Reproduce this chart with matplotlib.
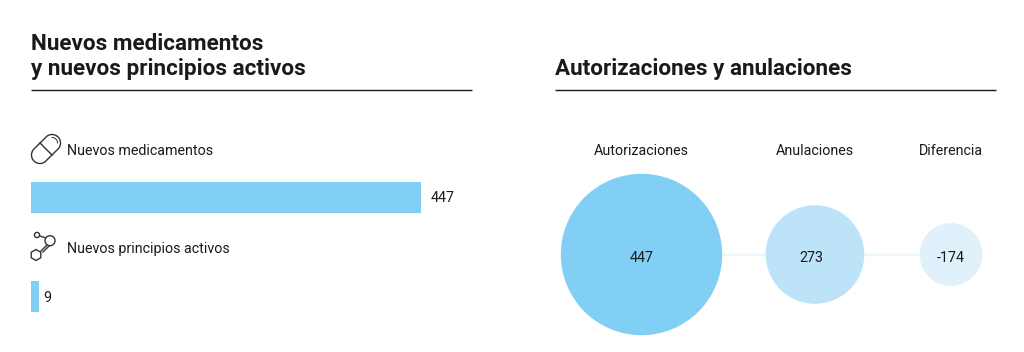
import numpy as np
import matplotlib
matplotlib.use("Agg")
import matplotlib.pyplot as plt
from matplotlib.patches import Circle, Polygon, Arc
from matplotlib.transforms import Affine2D

# datos
categorias = ["Nuevos medicamentos", "Nuevos principios activos"]
valores_barras = [447, 9]
etiquetas_burbujas = ["Autorizaciones", "Anulaciones", "Diferencia"]
valores_burbujas = [447, 273, -174]
titulo_izq = ["Nuevos medicamentos", "y nuevos principios activos"]
titulo_der = "Autorizaciones y anulaciones"

azul = "#82cff6"
colores_burbujas = ["#82cff6", "#bde3f9", "#e0f1fc"]
negro = "#1a1a1a"
gris = "#333333"
plt.rcParams["font.family"] = ["Roboto", "DejaVu Sans"]

fig = plt.figure(figsize=(10.24, 3.52), dpi=100, facecolor="white")

# capa en pixeles, para titulos, iconos y burbujas
ax = fig.add_axes([0, 0, 1, 1])
ax.set_xlim(0, 1024)
ax.set_ylim(352, 0)
ax.axis("off")

# titulos
ax.text(31, 44, titulo_izq[0], fontsize=16.2, fontweight="bold", color=negro, ha="left", va="center")
ax.text(31, 69.5, titulo_izq[1], fontsize=16.2, fontweight="bold", color=negro, ha="left", va="center")
ax.text(555, 69.5, titulo_der, fontsize=16.2, fontweight="bold", color=negro, ha="left", va="center")
ax.plot([31, 472], [90, 90], color=negro, lw=1.0, solid_capstyle="butt")
ax.plot([555, 996], [90, 90], color=negro, lw=1.0, solid_capstyle="butt")

# barras
W, H = 1024, 352
ax_b = fig.add_axes([31 / W, 1 - 312 / H, 390 / W, 132 / H])
ax_b.patch.set_alpha(0)
ax_b.set_xlim(0, 447)
ax_b.set_ylim(132, 0)
ax_b.axis("off")
y_barras = [17, 116]
ax_b.barh(y_barras, valores_barras, height=31, color=azul)
for y, v in zip(y_barras, valores_barras):
    ax_b.annotate(str(v), (v, y), xytext=(10 if v > 100 else 4, -1.5), textcoords="offset pixels",
                  fontsize=10.3, color=negro, va="center", ha="left")

ax.text(67, 151, categorias[0], fontsize=10.3, color=negro, va="center")
ax.text(67, 249.5, categorias[1], fontsize=10.3, color=negro, va="center")

# icono pastilla
rot = Affine2D().rotate_deg_around(46, 149, -45) + ax.transData
ang = np.radians(np.arange(0, 361, 10))
px = np.where(np.cos(ang) > 0, 54.5, 37.5) + 8.5 * np.cos(ang)
py = 149 + 8.5 * np.sin(ang)
ax.add_patch(Polygon(np.c_[px, py], closed=True, fc="white", ec=gris, lw=1.0, transform=rot))
ax.plot([46, 46], [140.5, 157.5], color=gris, lw=1.0, transform=rot)
ax.add_patch(Arc((54.5, 149), 11, 11, theta1=-50, theta2=50, ec=gris, lw=0.7, transform=rot))

# icono molecula
def hexagono(cx, cy, r):
    a = np.radians(np.arange(30, 390, 60))
    return Polygon(np.c_[cx + r * np.cos(a), cy + r * np.sin(a)], closed=True,
                   fc="white", ec=gris, lw=1.0, zorder=3)

ax.plot([37, 46], [235, 238], color=gris, lw=1.0)
ax.plot([47, 41], [245, 251], color=gris, lw=1.0)
ax.plot([49, 43], [246, 252], color=gris, lw=1.0)
ax.add_patch(Circle((37, 235), 2.6, fc="white", ec=gris, lw=1.0, zorder=3))
ax.add_patch(Circle((50, 240.7), 5, fc="white", ec=gris, lw=1.0, zorder=3))
ax.add_patch(hexagono(36, 255, 5.5))

# burbujas
x_burbujas = [641.5, 815, 951]
dx_valor = [0, -4, 0]
y_burbuja = 254.5
escala = 80.7 / 447
ax.plot([x_burbujas[0], x_burbujas[-1]], [y_burbuja, y_burbuja], color="#ecf7fd", lw=1.6, zorder=1)
for x, d, v, c, e in zip(x_burbujas, dx_valor, valores_burbujas, colores_burbujas, etiquetas_burbujas):
    ax.add_patch(Circle((x, y_burbuja), abs(v) * escala, fc=c, ec="none", zorder=2))
    ax.text(x + d, y_burbuja + 3, str(v), fontsize=10.3, color=negro, ha="center", va="center", zorder=3)
    ax.text(x, 151, e, fontsize=10.3, color=negro, ha="center", va="center")

fig.savefig("out.png", dpi=100, facecolor="white")
